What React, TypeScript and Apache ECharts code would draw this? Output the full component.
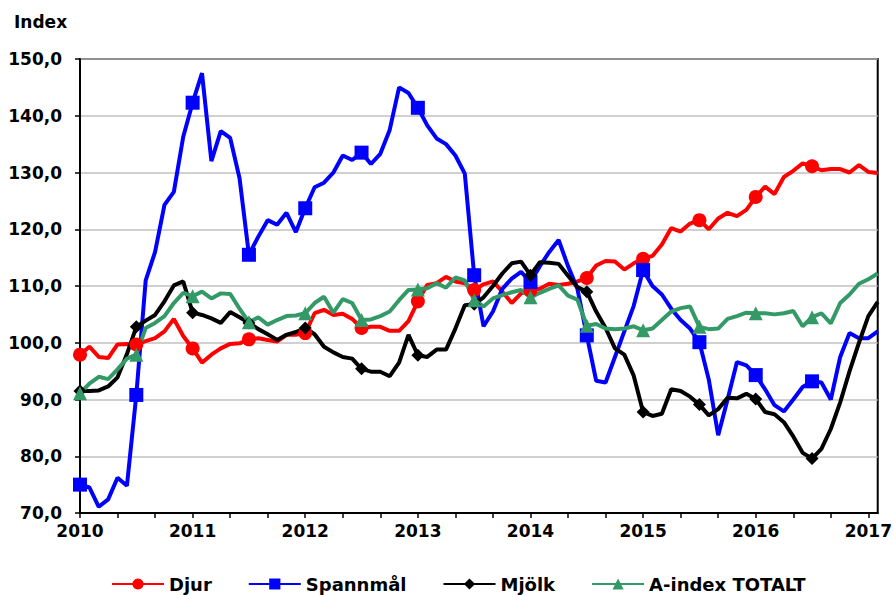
import React, { useEffect, useRef } from "react";
import * as echarts from "echarts";

const years = ["2010", "2011", "2012", "2013", "2014", "2015", "2016", "2017"];
const monthCount = 86;

const djur = [
  97.9, 99.3, 97.5, 97.3, 99.7, 99.8, 99.7, 100.3, 100.8, 102.0, 104.2, 101.2,
  99.0, 96.5, 97.9, 99.0, 99.8, 99.9, 100.6, 100.8, 100.5, 100.2, 101.4, 101.4,
  101.7, 105.2, 105.8, 104.9, 105.1, 104.2, 102.6, 102.8, 102.8, 102.1, 102.1, 103.8,
  107.3, 110.2, 110.5, 111.6, 110.8, 110.5, 109.3, 110.3, 110.8, 109.0, 107.0, 108.7,
  109.2, 109.5, 110.4, 110.2, 110.4, 110.8, 111.4, 113.6, 114.4, 114.3, 112.9, 114.0,
  114.8, 115.3, 117.3, 120.2, 119.6, 121.0, 121.6, 120.0, 121.9, 122.9, 122.3, 123.4,
  125.7, 127.5, 126.2, 129.2, 130.3, 131.6, 131.1, 130.4, 130.6, 130.6, 130.0, 131.3,
  130.1, 129.9,
];

const spannmal = [
  75.0, 74.5, 71.1, 72.4, 76.2, 74.8, 90.8, 111.0, 116.0, 124.3, 126.6, 136.3,
  142.3, 147.5, 132.0, 137.3, 136.1, 129.0, 115.5, 118.7, 121.6, 120.8, 122.9, 119.5,
  123.7, 127.4, 128.2, 130.0, 133.0, 132.2, 133.5, 131.5, 133.3, 137.5, 145.0, 144.0,
  141.4, 138.3, 136.0, 135.0, 133.0, 129.8, 111.9, 102.9, 105.5, 109.5, 111.3, 112.5,
  110.7, 113.5, 116.0, 118.1, 113.5, 109.5, 101.3, 93.3, 93.0, 97.5, 102.0, 106.5,
  112.8, 110.0, 108.5, 106.0, 104.0, 102.5, 100.1, 93.5, 83.7, 90.0, 96.6, 96.0,
  94.3, 91.8, 89.0, 87.9, 90.0, 92.2, 93.2, 93.0, 90.0, 97.5, 101.7, 100.8,
  100.8, 102.0,
];

const mjolk = [
  91.5, 91.5, 91.6, 92.3, 93.9, 98.0, 102.8, 103.9, 104.9, 107.3, 110.1, 110.8,
  105.3, 104.9, 104.3, 103.5, 105.4, 104.5, 103.5, 102.4, 101.5, 100.5, 101.4, 101.9,
  102.6, 101.5, 99.3, 98.3, 97.5, 97.2, 95.4, 94.9, 94.9, 94.1, 96.5, 101.4,
  97.8, 97.5, 98.8, 98.8, 102.5, 106.6, 106.8, 108.0, 110.0, 112.2, 114.0, 114.3,
  111.9, 114.2, 114.1, 113.9, 111.8, 109.8, 109.0, 105.5, 102.6, 99.0, 97.9, 94.2,
  87.8, 87.1, 87.5, 91.8, 91.5, 90.5, 89.1, 87.2, 88.3, 90.3, 90.2, 91.0,
  90.1, 87.8, 87.4, 86.0, 83.5, 80.6, 79.6, 81.3, 84.8, 89.5, 95.0, 100.0,
  104.7, 107.2,
];

const aindex = [
  91.1, 92.8, 94.0, 93.6, 95.3, 97.2, 97.9, 102.6, 103.5, 104.7, 107.0, 108.8,
  108.2, 109.0, 107.8, 108.7, 108.6, 106.0, 103.6, 104.5, 103.2, 104.0, 104.7, 104.8,
  105.2, 107.0, 108.1, 105.3, 107.7, 107.0, 104.0, 104.1, 104.7, 105.5, 107.5, 109.3,
  109.4, 109.6, 110.5, 109.7, 111.5, 111.0, 107.5, 106.4, 107.8, 108.4, 108.9, 109.3,
  108.0, 108.8, 109.5, 110.1, 108.3, 107.6, 103.0, 103.3, 102.5, 102.4, 102.5, 102.9,
  102.2, 102.5, 104.0, 105.5, 106.1, 106.4, 102.8, 102.4, 102.5, 104.2, 104.7, 105.3,
  105.2, 105.2, 105.0, 105.2, 105.6, 102.9, 104.5, 105.2, 103.4, 107.0, 108.5, 110.4,
  111.2, 112.2,
];

const seriesNames = ["Djur", "Spannmål", "Mjölk", "A-index TOTALT"];
const yTicks = { min: 70, max: 150, step: 10 };

const FONT = "'DejaVu Sans', sans-serif";

export default function App() {
  const ref = useRef<HTMLDivElement>(null);

  useEffect(() => {
    if (!ref.current) return;
    const chart = echarts.init(ref.current, undefined, { renderer: "svg" });

    const categories: string[] = [];
    for (let i = 0; i < monthCount; i++) {
      const y = years[Math.floor(i / 12)];
      const m = (i % 12) + 1;
      categories.push(`${y}-${m < 10 ? "0" + m : m}`);
    }

    const mk = (vals: number[]) =>
      vals.map((v, i) => (i % 6 === 0 && i < 84 ? v : { value: v, symbol: "none" }));

    const defs = [
      { name: seriesNames[0], data: djur, color: "#ff0000", symbol: "circle", size: 14 },
      { name: seriesNames[1], data: spannmal, color: "#0000ff", symbol: "rect", size: 14 },
      { name: seriesNames[2], data: mjolk, color: "#000000", symbol: "diamond", size: 13 },
      { name: seriesNames[3], data: aindex, color: "#339966", symbol: "triangle", size: 14 },
    ];

    chart.setOption({
      animation: false,
      textStyle: { fontFamily: FONT },
      graphic: [
        {
          type: "text",
          left: 14,
          top: 13,
          style: { text: "Index", font: `bold 17px ${FONT}`, fill: "#000" },
        },
      ],
      grid: {
        left: 80,
        right: 15,
        top: 59,
        bottom: 82,
        show: true,
        borderColor: "#000",
        borderWidth: 2,
        backgroundColor: "transparent",
      },
      legend: {
        top: 570,
        left: 106,
        itemWidth: 52,
        itemHeight: 14,
        itemGap: 36,
        textStyle: { fontFamily: FONT, fontWeight: "bold", fontSize: 18, color: "#000" },
        data: seriesNames,
      },
      xAxis: {
        type: "category",
        data: categories,
        boundaryGap: false,
        axisLine: { show: true, lineStyle: { color: "#000", width: 2 } },
        axisTick: { show: true, interval: 3, length: 5, lineStyle: { color: "#000", width: 1.5 } },
        axisLabel: {
          interval: 11,
          margin: 9,
          fontFamily: FONT,
          fontWeight: "bold",
          fontSize: 17,
          color: "#000",
          formatter: (v: string) => v.slice(0, 4),
        },
        splitLine: { show: false },
      },
      yAxis: {
        type: "value",
        min: yTicks.min,
        max: yTicks.max,
        interval: yTicks.step,
        axisLine: { show: true, lineStyle: { color: "#000", width: 2 } },
        axisTick: { show: true, length: 5, lineStyle: { color: "#000", width: 1.5 } },
        axisLabel: {
          margin: 18,
          fontFamily: FONT,
          fontWeight: "bold",
          fontSize: 17,
          color: "#000",
          formatter: (v: number) => v.toFixed(1).replace(".", ","),
        },
        splitLine: { show: true, lineStyle: { color: "#c0c0c0", width: 1.5 } },
      },
      series: defs.map((d) => ({
        name: d.name,
        type: "line",
        data: mk(d.data),
        symbol: d.symbol,
        symbolSize: d.size,
        showAllSymbol: true,
        lineStyle: { color: d.color, width: 4 },
        itemStyle: { color: d.color, borderColor: d.color, borderWidth: 0 },
        emphasis: { disabled: true },
      })),
    });

    return () => chart.dispose();
  }, []);

  return (
    <div
      ref={ref}
      style={{ position: "absolute", left: 0, top: 0, width: 895, height: 595 }}
    />
  );
}
